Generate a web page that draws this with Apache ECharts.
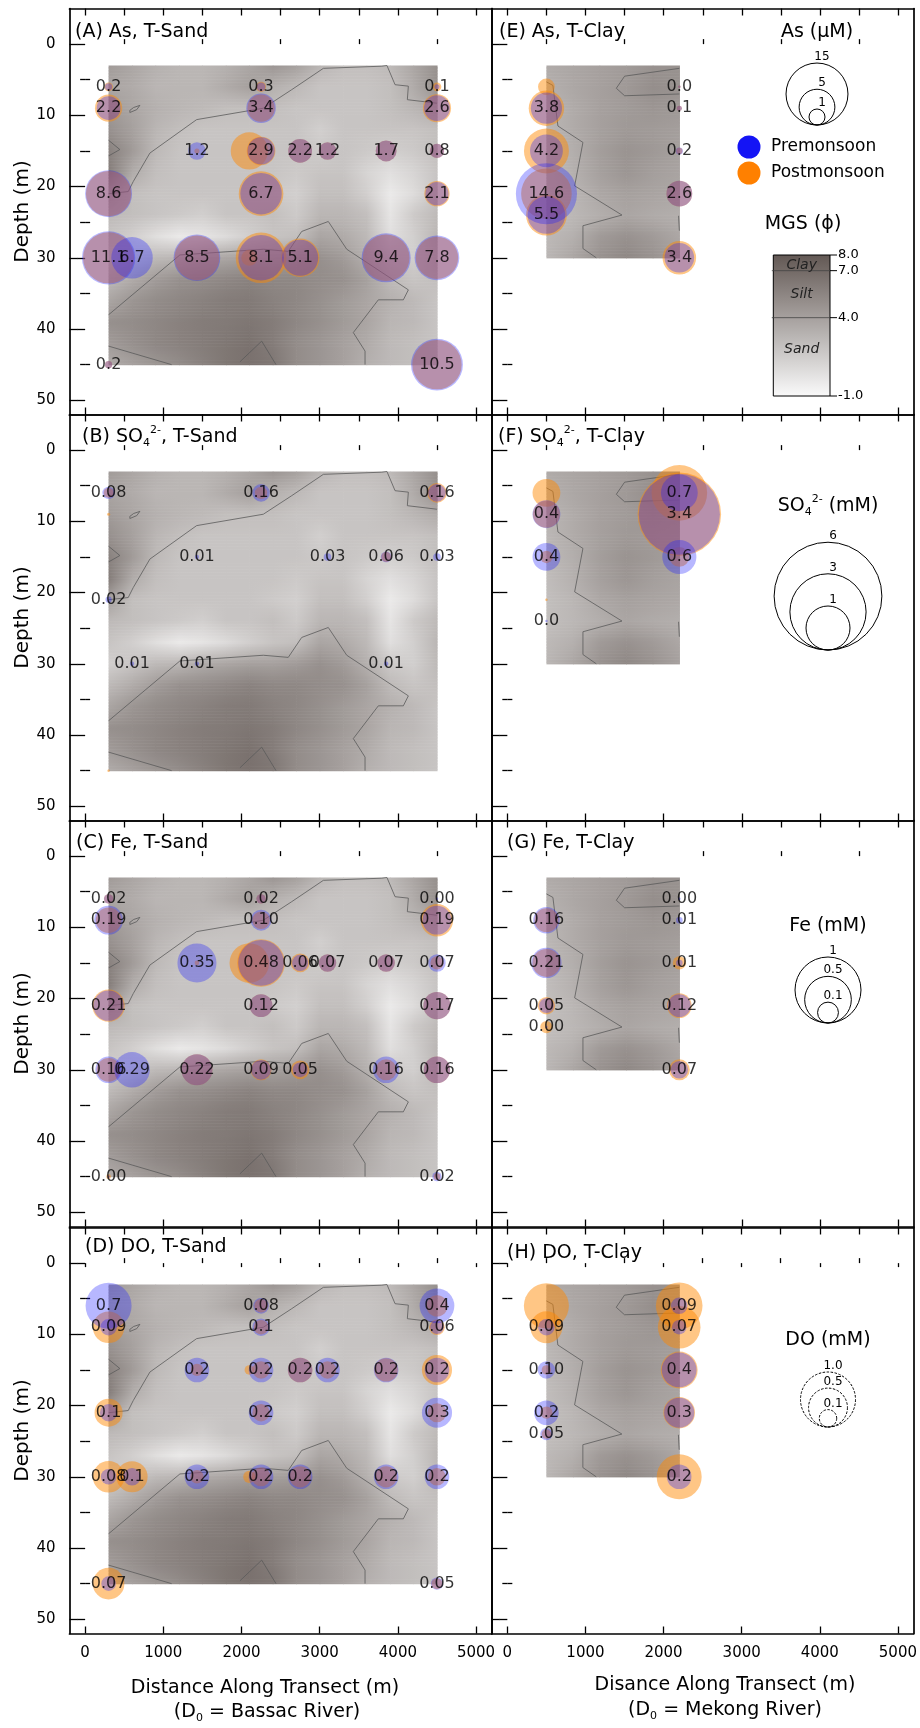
<!DOCTYPE html>
<html>
<head>
<meta charset="utf-8">
<script src="https://cdn.jsdelivr.net/npm/echarts@6/dist/echarts.min.js"></script>
<style>
  html, body { margin: 0; padding: 0; background: #fff; }
  #chart { width: 920px; height: 1728px; }
</style>
</head>
<body>
<div id="chart"></div>
<script>
const FONT = 'DejaVu Sans';

// ---- axis ticks ----
const distTicks = [0, 1000, 2000, 3000, 4000, 5000];
const distMinor = [500, 1500, 2500, 3500, 4500];
const depthTicks = [0, 10, 20, 30, 40, 50];
const depthMinor = [5, 15, 25, 35, 45];

// ---- median grain size (phi) field, T-Sand transect ----
const sandGridX = [300, 600, 900, 1200, 1500, 1800, 2100, 2400, 2700, 3000, 3300, 3600, 3900, 4200, 4500];
const sandGridY = [3, 6, 9, 12, 15, 18, 21, 24, 27, 30, 33, 36, 39, 42, 45];
const sandMGS = [
  [4.3, 3.7, 3.1, 2.8, 2.8, 3.1, 3.7, 4.6, 4.0, 2.8, 2.3, 2.3, 2.6, 3.7, 4.9],
  [3.7, 3.4, 2.8, 2.8, 2.8, 3.4, 4.0, 3.1, 2.6, 2.0, 2.0, 2.0, 2.3, 3.4, 4.9],
  [4.3, 3.7, 3.1, 2.8, 2.6, 2.3, 2.3, 2.3, 2.0, 2.0, 2.0, 2.0, 2.3, 2.8, 3.4],
  [4.9, 4.0, 2.8, 2.3, 2.0, 2.0, 2.0, 2.0, 2.0, 1.4, 2.0, 2.0, 2.0, 2.0, 2.3],
  [5.7, 4.3, 2.6, 2.0, 2.0, 2.0, 2.0, 2.0, 2.0, 1.7, 2.0, 1.7, 1.4, 1.7, 2.3],
  [6.0, 3.4, 2.3, 2.0, 2.0, 2.0, 2.0, 2.0, 1.7, 2.0, 2.0, 1.1, 0.5, 1.1, 2.0],
  [4.0, 2.3, 2.0, 2.0, 2.0, 2.0, 2.0, 1.7, 1.4, 2.3, 2.3, 1.4, -0.1, 0.7, 2.0],
  [2.6, 2.3, 2.0, 1.7, 1.4, 2.0, 2.0, 2.3, 1.7, 2.8, 2.8, 2.3, 0.2, 1.7, 2.6],
  [2.0, 1.4, 0.5, -0.1, 0.2, 0.7, 1.4, 2.0, 2.3, 3.7, 3.4, 2.6, 0.5, 1.4, 2.8],
  [1.4, 2.0, 2.6, 2.8, 3.4, 3.7, 4.0, 4.0, 4.3, 4.9, 4.3, 3.1, 1.7, 1.4, 2.6],
  [2.6, 3.4, 4.3, 4.9, 5.1, 5.4, 5.7, 5.4, 5.4, 5.1, 4.9, 4.0, 2.6, 2.0, 2.3],
  [3.7, 4.6, 5.1, 5.4, 5.7, 6.0, 6.1, 5.7, 5.4, 4.9, 4.3, 3.7, 3.1, 2.6, 2.0],
  [4.9, 5.1, 5.4, 5.7, 6.0, 6.1, 6.3, 6.0, 5.4, 4.9, 4.3, 3.7, 2.8, 2.6, 2.0],
  [4.3, 4.9, 5.4, 5.7, 6.0, 6.3, 6.6, 6.0, 5.1, 4.6, 4.0, 3.4, 2.6, 2.3, 2.0],
  [3.4, 4.0, 4.6, 5.1, 5.7, 6.3, 6.6, 6.3, 5.1, 4.6, 4.0, 3.1, 2.6, 2.3, 2.0]
];
const sandContours = [
  [[300, 21.0], [551, 20.7], [615, 19.3], [828, 15.3], [1426, 10.6], [2279, 9.0], [2642, 6.4], [3047, 3.4], [3794, 3.1], [3860, 3.0], [3964, 5.7], [4134, 5.9], [4121, 7.8], [4500, 8.3]],
  [[300, 13.5], [444, 14.8], [300, 15.7]],
  [[572, 9.3], [620, 8.9], [700, 8.6], [660, 9.2], [572, 9.6], [572, 9.3]],
  [[300, 38.0], [1212, 29.6], [2279, 28.8], [2598, 29.1], [2770, 26.3], [3110, 24.9], [3346, 28.8], [4134, 34.5], [4070, 35.9], [3750, 35.9], [3430, 40.5], [3580, 43.1], [3580, 45]],
  [[300, 42.4], [1106, 45]],
  [[1980, 44.6], [2258, 41.7], [2441, 45]]
];
const sandWells = [['LR09', 235, 1.8], ['LR08', 743, 1.8], ['LR07', 1368, 1.8], ['LR16', 1987, 2.1], ['LR05', 2275, 0.3],
  ['LR04', 2776, 2.1], ['LR03', 3132, 0.3], ['LR02', 3872, 1.8], ['LR01', 4493, 1.8]];

// ---- median grain size (phi) field, T-Clay transect ----
const clayGridX = [500, 840, 1180, 1520, 1860, 2200];
const clayGridY = [3, 6, 9, 12, 15, 18, 21, 24, 27, 30];
const clayMGS = [
  [3.4, 3.7, 4.0, 4.3, 4.8, 4.8],
  [3.1, 3.6, 4.0, 4.4, 5.0, 4.8],
  [2.8, 3.4, 4.0, 4.3, 4.6, 4.4],
  [2.7, 3.4, 4.0, 4.4, 4.3, 4.1],
  [2.6, 3.2, 4.1, 4.7, 4.4, 4.0],
  [2.4, 3.1, 4.0, 4.6, 4.1, 3.8],
  [2.3, 2.8, 3.6, 4.0, 3.8, 3.6],
  [2.3, 2.7, 3.2, 3.7, 3.4, 3.2],
  [2.6, 3.1, 4.3, 4.8, 4.3, 3.6],
  [2.8, 3.7, 4.8, 5.4, 4.8, 4.0]
];
const clayContours = [
  [[2200, 3.4], [1500, 4.5], [1394, 6.2], [1500, 7.25], [2200, 7.0]],
  [[500, 5.3], [583, 5.8], [647, 11.5], [967, 13.8], [861, 19.9], [1466, 24.0], [967, 25.5], [967, 28.7], [1138, 30]],
  [[2190, 24.1], [2200, 26.2]]
];
const clayWells = [['LR10', 569, 2.0], ['LR14', 2250, 2.0]];

// ---- As (uM): [distance, depth, value] ----
const asSandPre = [[300, 6, '0.2'], [300, 9, '2.2'], [300, 21, '8.6'], [300, 30, '11.1'], [300, 45, '0.2'],
  [600, 30, '6.7'], [1430, 15, '1.2'], [1430, 30, '8.5'],
  [2250, 6, '0.3'], [2250, 9, '3.4'], [2250, 15, '2.9'], [2250, 21, '6.7'], [2250, 30, '8.1'],
  [2750, 15, '2.2'], [2750, 30, '5.1'], [3100, 15, '1.2'], [3850, 15, '1.7'], [3850, 30, '9.4'],
  [4500, 6, '0.1'], [4500, 9, '2.6'], [4500, 15, '0.8'], [4500, 21, '2.1'], [4500, 30, '7.8'], [4500, 45, '10.5']];
const asSandPost = [[300, 6, 0.3], [300, 9, 2.9], [300, 21, 8.0], [300, 30, 10.2], [300, 45, 0.2],
  [1430, 15, 0.1], [1430, 30, 7.8], [2100, 15, 5.4], [2100, 30, 1.0],
  [2250, 6, 0.4], [2250, 9, 2.9], [2250, 15, 3.2], [2250, 21, 7.8], [2250, 30, 10.0],
  [2750, 15, 2.2], [2750, 30, 5.8], [3100, 15, 1.2], [3850, 15, 1.7], [3850, 30, 8.5],
  [4500, 6, 0.3], [4500, 9, 3.1], [4500, 15, 0.8], [4500, 21, 2.5], [4500, 30, 7.0], [4500, 45, 9.5]];
const asClayPre = [[500, 9, '3.8'], [500, 15, '4.2'], [500, 21, '14.6'], [500, 24, '5.5'],
  [2200, 6, '0.0'], [2200, 9, '0.1'], [2200, 15, '0.2'], [2200, 21, '2.6'], [2200, 30, '3.4']];
const asClayPost = [[500, 6, 1.1], [500, 9, 4.9], [500, 15, 7.9], [500, 21, 10.0], [500, 24, 6.5],
  [2200, 6, 0.02], [2200, 9, 0.1], [2200, 15, 0.15], [2200, 21, 2.6], [2200, 30, 4.4]];

// ---- SO4 (mM) ----
const so4SandPre = [[300, 6, '0.08'], [300, 21, '0.02'], [600, 30, '0.01'], [1430, 15, '0.01'], [1430, 30, '0.01'],
  [2250, 6, '0.16'], [3100, 15, '0.03'], [3850, 15, '0.06'], [3850, 30, '0.01'], [4500, 6, '0.16'], [4500, 15, '0.03']];
const so4SandPost = [[300, 6, 0.05], [300, 9, 0.005], [300, 45, 0.003], [2250, 6, 0.08], [3850, 15, 0.05], [4500, 6, 0.2]];
const so4ClayPre = [[500, 9, '0.4'], [500, 15, '0.4'], [500, 24, '0.0'], [2200, 6, '0.7'], [2200, 9, '3.4'], [2200, 15, '0.6']];
const so4ClayPost = [[500, 6, 0.4], [500, 9, 0.38], [500, 15, 0.08], [500, 21, 0.003], [2200, 6, 1.6], [2200, 9, 3.6], [2200, 15, 0.2]];

// ---- Fe (mM) ----
const feSandPre = [[300, 6, '0.02'], [300, 9, '0.19'], [300, 21, '0.21'], [300, 30, '0.16'], [300, 45, '0.00'],
  [600, 30, '0.29'], [1430, 15, '0.35'], [1430, 30, '0.22'],
  [2250, 6, '0.02'], [2250, 9, '0.10'], [2250, 15, '0.48'], [2250, 21, '0.12'], [2250, 30, '0.09'],
  [2750, 15, '0.06'], [2750, 30, '0.05'], [3100, 15, '0.07'], [3850, 15, '0.07'], [3850, 30, '0.16'],
  [4500, 6, '0.00'], [4500, 9, '0.19'], [4500, 15, '0.07'], [4500, 21, '0.17'], [4500, 30, '0.16'], [4500, 45, '0.02']];
const feSandPost = [[300, 6, 0.02], [300, 9, 0.15], [300, 21, 0.24], [300, 30, 0.13], [300, 45, 0.005],
  [1430, 15, 0.005], [1430, 30, 0.22], [2100, 15, 0.36],
  [2250, 6, 0.02], [2250, 9, 0.07], [2250, 15, 0.52], [2250, 21, 0.12], [2250, 30, 0.1],
  [2750, 15, 0.08], [2750, 30, 0.08], [3100, 15, 0.07], [3850, 15, 0.07], [3850, 30, 0.1],
  [4500, 9, 0.24], [4500, 15, 0.04], [4500, 21, 0.17], [4500, 30, 0.16], [4500, 45, 0.01]];
const feClayPre = [[500, 9, '0.16'], [500, 15, '0.21'], [500, 21, '0.05'], [500, 24, '0.00'],
  [2200, 6, '0.00'], [2200, 9, '0.01'], [2200, 15, '0.01'], [2200, 21, '0.12'], [2200, 30, '0.07']];
const feClayPost = [[500, 9, 0.13], [500, 15, 0.18], [500, 21, 0.07], [500, 24, 0.035],
  [2200, 15, 0.04], [2200, 21, 0.14], [2200, 30, 0.1]];

// ---- DO (mM) ----
const doSandPre = [[300, 6, '0.7'], [300, 9, '0.09'], [300, 21, '0.1'], [300, 30, '0.08'], [300, 45, '0.07'],
  [600, 30, '0.1'], [1430, 15, '0.2'], [1430, 30, '0.2'],
  [2250, 6, '0.08'], [2250, 9, '0.1'], [2250, 15, '0.2'], [2250, 21, '0.2'], [2250, 30, '0.2'],
  [2750, 15, '0.2'], [2750, 30, '0.2'], [3100, 15, '0.2'], [3850, 15, '0.2'], [3850, 30, '0.2'],
  [4500, 6, '0.4'], [4500, 9, '0.06'], [4500, 15, '0.2'], [4500, 21, '0.3'], [4500, 30, '0.2'], [4500, 45, '0.05']];
const doSandPost = [[300, 9, 0.33], [300, 21, 0.26], [300, 30, 0.33], [300, 45, 0.33], [600, 30, 0.32],
  [1430, 15, 0.05], [1430, 30, 0.06], [2100, 15, 0.03], [2100, 30, 0.05],
  [2250, 6, 0.06], [2250, 9, 0.07], [2250, 15, 0.1], [2250, 21, 0.1], [2250, 30, 0.12],
  [2750, 15, 0.2], [2750, 30, 0.15], [3100, 15, 0.1], [3850, 15, 0.18], [3850, 30, 0.15],
  [4500, 6, 0.15], [4500, 9, 0.08], [4500, 15, 0.3], [4500, 21, 0.12], [4500, 30, 0.1], [4500, 45, 0.04]];
const doClayPre = [[500, 9, '0.09'], [500, 15, '0.10'], [500, 21, '0.2'], [500, 24, '0.05'],
  [2200, 6, '0.09'], [2200, 9, '0.07'], [2200, 15, '0.4'], [2200, 21, '0.3'], [2200, 30, '0.2']];
const doClayPost = [[500, 6, 0.67], [500, 9, 0.34], [500, 15, 0.03], [500, 21, 0.05], [500, 24, 0.03],
  [2200, 6, 0.72], [2200, 9, 0.6], [2200, 15, 0.45], [2200, 21, 0.33], [2200, 30, 0.67]];

// ---- bubble-size legend entries ----
const asLegend = [15, 5, 1];
const so4Legend = [6, 3, 1];
const feLegend = [1, 0.5, 0.1];
const doLegend = [1.0, 0.5, 0.1];
const mgsLegendTicks = [8.0, 7.0, 4.0, -1.0];

// ---------------------------------------------------------------
const PRE_COLOR = 'rgba(30,30,255,0.4)';
const POST_COLOR = 'rgba(255,135,0,0.6)';

function mgsColor(v) {
  const t = Math.max(0, Math.min(1, (v + 1) / 9));
  const r = Math.round(250 - 152 * t), g = Math.round(250 - 162 * t), b = Math.round(250 - 166 * t);
  return 'rgb(' + r + ',' + g + ',' + b + ')';
}
// bubble diameter grows with the square root of concentration
function bubble(k, v) { return Math.max(2.5, k * Math.sqrt(v)); }

const subSup = {
  sub: { fontSize: 11, fontFamily: FONT, verticalAlign: 'bottom', lineHeight: 12 },
  sup: { fontSize: 11, fontFamily: FONT, verticalAlign: 'top', lineHeight: 12 }
};

const panels = [
  { col: 0, row: 0, title: '(A) As, T-Sand', tx: 75, ty: 32, pre: asSandPre, post: asSandPost, k: 16, field: 'sand' },
  { col: 0, row: 1, title: '(B) SO{sub|4}{sup|2-}, T-Sand', tx: 82, ty: 437, pre: so4SandPre, post: so4SandPost, k: 44, field: 'sand' },
  { col: 0, row: 2, title: '(C) Fe, T-Sand', tx: 76, ty: 843, pre: feSandPre, post: feSandPost, k: 66, field: 'sand' },
  { col: 0, row: 3, title: '(D) DO, T-Sand', tx: 85, ty: 1247, pre: doSandPre, post: doSandPost, k: 55, field: 'sand' },
  { col: 1, row: 0, title: '(E) As, T-Clay', tx: 499, ty: 32, pre: asClayPre, post: asClayPost, k: 16, field: 'clay' },
  { col: 1, row: 1, title: '(F) SO{sub|4}{sup|2-}, T-Clay', tx: 498, ty: 437, pre: so4ClayPre, post: so4ClayPost, k: 44, field: 'clay' },
  { col: 1, row: 2, title: '(G) Fe, T-Clay', tx: 507, ty: 843, pre: feClayPre, post: feClayPost, k: 66, field: 'clay' },
  { col: 1, row: 3, title: '(H) DO, T-Clay', tx: 507, ty: 1253, pre: doClayPre, post: doClayPost, k: 55, field: 'clay' }
];

const ROW_TOP = [8.5, 414.5, 820.5, 1227.5];
const GRID_W = 422.2, GRID_H = 406;
const LINE = { color: '#000', width: 1.7 };
const TICK = { color: '#000', width: 1.3 };
const NX = 4, NY = 5;   // axes per grid

const grids = [], xAxes = [], yAxes = [], series = [], graphics = [];

function xAx(g, extra) {
  return Object.assign({ gridIndex: g, type: 'value', min: -200, max: 5200, splitLine: { show: false },
    axisLine: { show: false }, axisTick: { show: false }, axisLabel: { show: false } }, extra);
}
function yAx(g, extra) {
  return Object.assign({ gridIndex: g, type: 'value', min: -5, max: 52, inverse: true, splitLine: { show: false },
    axisLine: { show: false }, axisTick: { show: false }, axisLabel: { show: false } }, extra);
}

function fieldSeries(g, gx, gy, mgs) {
  const data = [];
  for (let j = 0; j < gy.length - 1; j++) {
    for (let i = 0; i < gx.length - 1; i++) {
      data.push([gx[i], gy[j], gx[i + 1], gy[j + 1], mgs[j][i], mgs[j][i + 1], mgs[j + 1][i], mgs[j + 1][i + 1]]);
    }
  }
  return {
    type: 'custom', xAxisIndex: NX * g, yAxisIndex: NY * g, z: 1, silent: true,
    dimensions: ['x0', 'y0', 'x1', 'y1', 'v00', 'v10', 'v01', 'v11'],
    encode: { x: [0, 2], y: [1, 3] },
    data: data,
    renderItem: function (params, api) {
      const p0 = api.coord([api.value(0), api.value(1)]);
      const p1 = api.coord([api.value(2), api.value(3)]);
      const v00 = api.value(4), v10 = api.value(5), v01 = api.value(6), v11 = api.value(7);
      const x = p0[0], w = p1[0] - p0[0], y = p0[1], h = p1[1] - p0[1];
      const n = Math.max(2, Math.round(Math.abs(h) / 1.5));
      const kids = [];
      for (let s = 0; s < n; s++) {
        const t = (s + 0.5) / n;
        const vl = v00 + (v01 - v00) * t, vr = v10 + (v11 - v10) * t;
        kids.push({
          type: 'rect',
          shape: { x: x, y: y + h * s / n, width: w + 0.6, height: h / n + 0.6 },
          style: {
            fill: new echarts.graphic.LinearGradient(0, 0, 1, 0, [
              { offset: 0, color: mgsColor(vl) }, { offset: 1, color: mgsColor(vr) }]),
            stroke: null
          }
        });
      }
      return { type: 'group', children: kids };
    }
  };
}

panels.forEach(function (p, g) {
  const leftCol = p.col === 0, bottomRow = p.row === 3;
  grids.push({ left: leftCol ? 69.5 : 491.7, top: ROW_TOP[p.row], width: GRID_W, height: GRID_H });

  // x axes: bottom major (labels), bottom minor, top, bottom outer ticks
  xAxes.push(xAx(g, {
    position: 'bottom',
    axisLine: { show: true, onZero: false, lineStyle: LINE },
    axisTick: { show: true, inside: true, length: 7, customValues: distTicks, lineStyle: TICK },
    axisLabel: { show: bottomRow, customValues: distTicks, margin: 12, fontSize: 15, color: '#000', fontFamily: FONT,
      formatter: function (v) { return String(v); } }
  }));
  xAxes.push(xAx(g, {
    position: 'bottom',
    axisTick: { show: true, inside: true, length: 5, customValues: distMinor, lineStyle: TICK }
  }));
  xAxes.push(xAx(g, {
    position: 'top',
    axisLine: { show: true, onZero: false, lineStyle: LINE },
    axisTick: { show: true, inside: true, length: 7, customValues: distTicks.concat(distMinor), lineStyle: TICK }
  }));
  xAxes.push(xAx(g, {
    position: 'bottom',
    axisTick: { show: bottomRow, inside: false, length: 4, customValues: distTicks, lineStyle: TICK }
  }));

  // y axes: left major in/out, minor in/out, right frame
  yAxes.push(yAx(g, {
    position: 'left',
    axisLine: { show: true, onZero: false, lineStyle: LINE },
    axisTick: { show: true, inside: true, length: 8, customValues: depthTicks, lineStyle: TICK },
    axisLabel: { show: leftCol, customValues: depthTicks, margin: 14, fontSize: 15, color: '#000', fontFamily: FONT },
    name: leftCol ? 'Depth (m)' : '', nameLocation: 'middle', nameGap: 36,
    nameTextStyle: { fontSize: 20, color: '#000', fontFamily: FONT }
  }));
  yAxes.push(yAx(g, { position: 'left', axisTick: { show: true, inside: false, length: 8, customValues: depthTicks, lineStyle: TICK } }));
  yAxes.push(yAx(g, { position: 'left', axisTick: { show: true, inside: true, length: 5, customValues: depthMinor, lineStyle: TICK } }));
  yAxes.push(yAx(g, { position: 'left', axisTick: { show: true, inside: false, length: 5, customValues: depthMinor, lineStyle: TICK } }));
  yAxes.push(yAx(g, { position: 'right', axisLine: { show: true, onZero: false, lineStyle: LINE } }));

  const sand = p.field === 'sand';
  series.push(sand ? fieldSeries(g, sandGridX, sandGridY, sandMGS) : fieldSeries(g, clayGridX, clayGridY, clayMGS));

  (sand ? sandContours : clayContours).forEach(function (c) {
    series.push({
      type: 'line', xAxisIndex: NX * g, yAxisIndex: NY * g, data: c, z: 2, silent: true,
      symbol: 'none', showSymbol: false, lineStyle: { color: '#5a5a5a', width: 0.8 }
    });
  });

  // postmonsoon below, premonsoon (labelled) above
  series.push({
    type: 'scatter', xAxisIndex: NX * g, yAxisIndex: NY * g, z: 3, silent: true,
    data: p.post.map(function (d) { return [d[0], d[1], d[2]]; }),
    symbolSize: function (v) { return bubble(p.k, v[2]); },
    itemStyle: { color: POST_COLOR }
  });
  series.push({
    type: 'scatter', xAxisIndex: NX * g, yAxisIndex: NY * g, z: 4, silent: true,
    data: p.pre.map(function (d) { return { name: d[2], value: [d[0], d[1], parseFloat(d[2])] }; }),
    symbolSize: function (v) { return bubble(p.k, v[2]); },
    itemStyle: { color: PRE_COLOR },
    label: { show: true, position: 'inside', formatter: '{b}', fontSize: 16, color: '#000', fontFamily: FONT }
  });

  if (p.row === 0) {
    series.push({
      type: 'scatter', xAxisIndex: NX * g, yAxisIndex: NY * g, z: 5, silent: true,
      data: (sand ? sandWells : clayWells).map(function (w) { return { name: w[0], value: [w[1], w[2]] }; }),
      symbolSize: 1, itemStyle: { opacity: 0 },
      label: { show: true, position: 'inside', formatter: '{b}', fontSize: 13, fontStyle: 'italic', color: '#000', fontFamily: FONT }
    });
  }

  graphics.push({
    type: 'text', x: p.tx, y: p.ty, z: 20,
    style: { text: p.title, rich: subSup, fontSize: 19, fontFamily: FONT, fill: '#000', lineHeight: 24,
      align: 'left', verticalAlign: 'middle' }
  });
});

// ---- distance-axis titles ----
function centerText(x, y, text, size) {
  graphics.push({ type: 'text', x: x, y: y, z: 20,
    style: { text: text, rich: subSup, fontSize: size, fontFamily: FONT, fill: '#000', lineHeight: 24,
      align: 'center', verticalAlign: 'middle' } });
}
centerText(265, 1688, 'Distance Along Transect (m)', 19);
centerText(267, 1712, '(D{sub|0} = Bassac River)', 19);
centerText(725, 1685, 'Disance Along Transect (m)', 19);
centerText(725, 1710, '(D{sub|0} = Mekong River)', 19);

// ---- bubble-size keys ----
function sizeKey(cx, bottom, k, vals, labels, dashed) {
  vals.forEach(function (v, i) {
    const r = bubble(k, v) / 2;
    graphics.push({ type: 'circle', z: 20, shape: { cx: cx, cy: bottom - r, r: r },
      style: { fill: 'none', stroke: '#000', lineWidth: 1, lineDash: dashed ? [2.5, 1.5] : null } });
    graphics.push({ type: 'text', z: 21, x: cx + 5, y: bottom - 2 * r - 6,
      style: { text: labels[i], fontSize: 12, fontFamily: FONT, fill: '#000', align: 'center', verticalAlign: 'middle' } });
  });
}
centerText(817, 32, 'As (µM)', 19);
sizeKey(817, 125, 16, asLegend, asLegend.map(String), false);
centerText(828, 506, 'SO{sub|4}{sup|2-} (mM)', 19);
sizeKey(828, 650, 44, so4Legend, so4Legend.map(String), false);
centerText(828, 926, 'Fe (mM)', 19);
sizeKey(828, 1023, 66, feLegend, feLegend.map(String), false);
centerText(828, 1340, 'DO (mM)', 19);
sizeKey(828, 1427, 55, doLegend, doLegend.map(function (v) { return v.toFixed(1); }), true);

// ---- season key ----
graphics.push({ type: 'circle', z: 20, shape: { cx: 749, cy: 147, r: 11.5 }, style: { fill: 'rgb(20,20,245)' } });
graphics.push({ type: 'circle', z: 20, shape: { cx: 749, cy: 173, r: 11.5 }, style: { fill: 'rgb(255,128,0)' } });
graphics.push({ type: 'text', z: 20, x: 771, y: 147, style: { text: 'Premonsoon', fontSize: 17, fontFamily: FONT, fill: '#000', align: 'left', verticalAlign: 'middle' } });
graphics.push({ type: 'text', z: 20, x: 771, y: 173, style: { text: 'Postmonsoon', fontSize: 17, fontFamily: FONT, fill: '#000', align: 'left', verticalAlign: 'middle' } });

// ---- MGS colour key ----
centerText(803, 224, 'MGS (ϕ)', 19);
(function () {
  const bx = 773.3, by = 255, bw = 56.7, bh = 141;
  const ypos = function (v) { return by + bh * (8 - v) / 9; };
  const stops = [];
  for (let i = 0; i <= 9; i++) stops.push({ offset: i / 9, color: mgsColor(8 - i) });
  graphics.push({ type: 'rect', z: 20, shape: { x: bx, y: by, width: bw, height: bh },
    style: { fill: new echarts.graphic.LinearGradient(0, 0, 0, 1, stops), stroke: '#000', lineWidth: 1 } });
  [7.0, 4.0].forEach(function (v) {
    graphics.push({ type: 'line', z: 21, shape: { x1: bx - 1.5, y1: ypos(v), x2: bx + bw, y2: ypos(v) },
      style: { stroke: '#444', lineWidth: 0.8 } });
  });
  mgsLegendTicks.forEach(function (v) {
    graphics.push({ type: 'line', z: 21, shape: { x1: bx + bw, y1: ypos(v), x2: bx + bw + 7, y2: ypos(v) },
      style: { stroke: '#000', lineWidth: 1 } });
    graphics.push({ type: 'text', z: 21, x: bx + bw + 8, y: ypos(v),
      style: { text: v.toFixed(1), fontSize: 13, fontFamily: FONT, fill: '#000', align: 'left', verticalAlign: 'middle' } });
  });
  [['Clay', 265.7], ['Silt', 294.3], ['Sand', 349.3]].forEach(function (t) {
    graphics.push({ type: 'text', z: 21, x: bx + bw / 2, y: t[1],
      style: { text: t[0], fontSize: 14, fontStyle: 'italic', fontFamily: FONT, fill: '#222', align: 'center', verticalAlign: 'middle' } });
  });
})();

const chart = echarts.init(document.getElementById('chart'), null, { renderer: 'canvas' });
chart.setOption({
  animation: false,
  backgroundColor: '#fff',
  textStyle: { fontFamily: FONT },
  grid: grids,
  xAxis: xAxes,
  yAxis: yAxes,
  series: series,
  graphic: { elements: graphics }
});
</script>
</body>
</html>
